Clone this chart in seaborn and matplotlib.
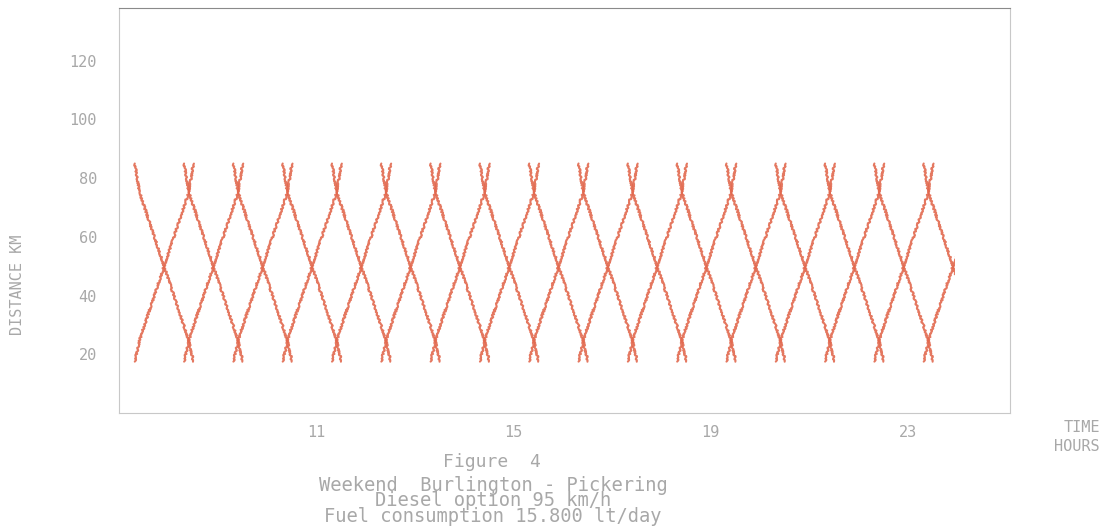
import numpy as np
import pandas as pd
import matplotlib
matplotlib.use("Agg")
import matplotlib.pyplot as plt
import seaborn as sns
from matplotlib.patches import Rectangle

# === Timetable (hours of the day) ===
down_departures = [7.32, 8.32, 9.32, 10.32, 11.32, 12.32, 13.32, 14.32, 15.32,
                   16.32, 17.32, 18.32, 19.32, 20.32, 21.32, 22.32, 23.32]
up_departures = [7.32, 8.32, 9.32, 10.32, 11.32, 12.32, 13.32, 14.32, 15.32,
                 16.32, 17.32, 18.32, 19.32, 20.32, 21.32, 22.32, 23.32]

# run profile of one trip: time since departure (h) and distance (km)
run_hours = [0.0, 0.10, 0.595, 1.09, 1.19]
down_km = [85, 75, 50, 25, 17.5]
up_km = [17.5, 25, 50, 75, 85]
day_end = 23.96

y_ticks = [20, 40, 60, 80, 100, 120]
x_ticks = [11, 15, 19, 23]

caption = ["Weekend  Burlington - Pickering",
           "Diesel option 95 km/h",
           "Fuel consumption 15.800 lt/day"]

line_color = "#e2694f"
grey = "#a8a8a8"

# === Build long table ===
rows = []
for i, dep in enumerate(down_departures):
    for h, km in zip(run_hours, down_km):
        rows.append((f"down{i}", dep + h, km))
for i, dep in enumerate(up_departures):
    for h, km in zip(run_hours, up_km):
        rows.append((f"up{i}", dep + h, km))
df = pd.DataFrame(rows, columns=["train", "hours", "km"])

# === Plot ===
sns.set_style("white")
plt.rcParams["font.family"] = ["DejaVu Sans Mono", "DejaVu Sans"]

fig = plt.figure(figsize=(11.1, 5.3), dpi=100)
ax = fig.add_axes([0.1072, 0.2208, 0.8027, 0.7642])

sns.lineplot(data=df, x="hours", y="km", units="train", estimator=None,
             sort=False, color=line_color, lw=1.5, alpha=0.9, ax=ax,
             legend=False)

clip = Rectangle((7, -10), day_end - 7, 200, transform=ax.transData)
for line in ax.lines:
    line.set_clip_path(clip)
    line.set_sketch_params(0.9, 3, 3)

ax.set_xlim(7, 25.07)
ax.set_ylim(0, 138)
ax.set_xticks(x_ticks)
ax.set_yticks(y_ticks)
ax.set_xlabel("")
ax.set_ylabel("")
ax.tick_params(direction="in", length=16, width=1, color="#bdbdbd",
               labelcolor=grey, labelsize=11)
ax.tick_params(axis="y", pad=16)
ax.tick_params(axis="x", pad=9)
for side in ["left", "right", "bottom"]:
    ax.spines[side].set_color("#c8c8c8")
ax.spines["top"].set_color("#8a8a8a")

fig.text(18 / 1110, 1 - 285 / 530, "DISTANCE KM", rotation=90, ha="center",
         va="center", fontsize=11, color=grey)
fig.text(1100 / 1110, 1 - 437 / 530, "TIME\nHOURS", ha="right", va="center",
         multialignment="right", fontsize=11, color=grey, linespacing=1.3)

fig.text(492 / 1110, 1 - 462 / 530, "Figure  4", ha="center", va="center",
         fontsize=13, color=grey)
fig.text(493 / 1110, 1 - 501 / 530, "\n".join(caption), ha="center",
         va="center", multialignment="center", fontsize=13.5, color=grey,
         linespacing=0.78)

fig.savefig("out.png", dpi=100)
plt.close(fig)
